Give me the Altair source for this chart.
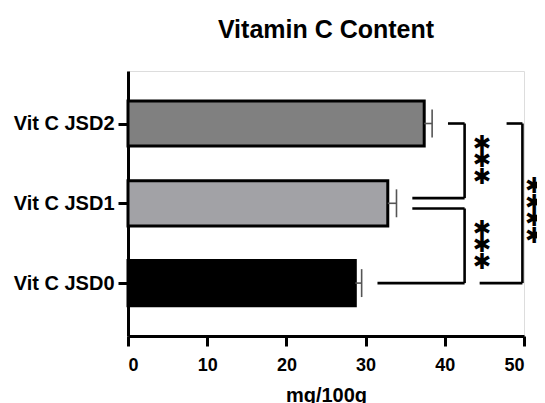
import json
import altair as alt
import pandas as pd

# ---- data -------------------------------------------------------------
categories = ["Vit C JSD0", "Vit C JSD1", "Vit C JSD2"]
means = [28.7, 32.8, 37.4]
sds = [0.8, 1.1, 1.0]
fills = ["#000000", "#a2a2a6", "#808080"]

# significance brackets: one entry per comparison
br_label = ["***", "***", "****"]
br_y_top = [2.0, 0.935, 2.0]
br_y_bot = [1.065, 0.0, 0.0]
br_x_vert = [42.5, 42.5, 49.8]
br_x_top = [40.4, 35.9, 47.8]
br_x_bot = [35.9, 31.5, 44.4]
br_star_x = [44.7, 44.7, 51.3]

x_ticks = [0, 10, 20, 30, 40, 50]

# ---- tables -----------------------------------------------------------
BAR_HALF = 0.283
CAP_HALF = 0.175

bars = pd.DataFrame({
    "cat": categories,
    "pos": list(range(len(categories))),
    "mean": means,
    "hi": [m + s for m, s in zip(means, sds)],
    "fill": fills,
})
bars["y0"] = bars["pos"] - BAR_HALF
bars["y1"] = bars["pos"] + BAR_HALF
bars["c0"] = bars["pos"] - CAP_HALF
bars["c1"] = bars["pos"] + CAP_HALF

segs = []
for i in range(len(br_label)):
    segs.append(dict(x=br_x_top[i], x2=br_x_vert[i], y=br_y_top[i], y2=br_y_top[i]))
    segs.append(dict(x=br_x_vert[i], x2=br_x_vert[i], y=br_y_top[i], y2=br_y_bot[i]))
    segs.append(dict(x=br_x_bot[i], x2=br_x_vert[i], y=br_y_bot[i], y2=br_y_bot[i]))
segs = pd.DataFrame(segs)

STAR = "\u2731"
stars = pd.DataFrame({
    "x": br_star_x,
    "y": [(a + b) / 2 for a, b in zip(br_y_top, br_y_bot)],
    "t": ["\n".join(STAR for _ in s) for s in br_label],
})

# ---- scales / axes ------------------------------------------------------
FONT = "Liberation Sans"
xs = alt.Scale(domain=[0, 50], nice=False, zero=False)
ys = alt.Scale(domain=[-0.663, 2.658], nice=False, zero=False)

xaxis = alt.Axis(
    values=x_ticks, title="mg/100g", grid=False,
    domainColor="black", domainWidth=3, tickColor="black", tickWidth=3,
    tickSize=10, labelFont=FONT, labelFontSize=18, labelFontWeight="bold",
    labelColor="black", labelPadding=10, titleFont=FONT, titleFontSize=20,
    titleFontWeight="bold", titleColor="black", titlePadding=11,
)
yaxis = alt.Axis(
    values=[0, 1, 2], title=None, grid=False,
    labelExpr=json.dumps(categories) + "[datum.value]",
    domainColor="black", domainWidth=3, tickColor="black", tickWidth=3,
    tickSize=10, labelFont=FONT, labelFontSize=20, labelFontWeight="bold",
    labelColor="black", labelPadding=4,
)


def X(f):
    return alt.X(f, type="quantitative", scale=xs, axis=xaxis)


def Y(f):
    return alt.Y(f, type="quantitative", scale=ys, axis=yaxis)


base = alt.Chart(bars)

bar_layer = base.mark_bar(stroke="black", strokeWidth=3).encode(
    x=X("zero_x"), x2="mean:Q", y=Y("y0"), y2="y1:Q",
    fill=alt.Fill("fill:N", scale=None),
).transform_calculate(zero_x="0")

err_h = base.mark_rule(color="#555555", strokeWidth=1.6).encode(
    x=X("mean"), x2="hi:Q", y=Y("pos"),
)
err_c = base.mark_rule(color="#555555", strokeWidth=1.6).encode(
    x=X("hi"), y=Y("c0"), y2="c1:Q",
)

br_layer = alt.Chart(segs).mark_rule(color="black", strokeWidth=2.6).encode(
    x=X("x"), x2="x2:Q", y=Y("y"), y2="y2:Q",
)

star_layer = alt.Chart(stars).mark_text(
    font="DejaVu Sans", fontWeight="bold", fontSize=22, lineBreak="\n",
    lineHeight=16.5, baseline="middle", align="center", color="black", dy=-17,
).encode(x=X("x"), y=Y("y"), text="t:N")

chart = alt.layer(bar_layer, err_h, err_c, br_layer, star_layer).properties(
    width=396, height=265,
    title=alt.TitleParams(
        "Vitamin C Content", font=FONT, fontSize=25, fontWeight="bold",
        color="black", anchor="middle", baseline="alphabetic", offset=8,
    ),
    autosize=alt.AutoSizeParams(type="none"),
    padding={"left": 120, "top": 63, "right": 13, "bottom": 67},
).configure_view(stroke=None).configure(background="white")

chart.save("out.html", embed_options={"renderer": "svg", "actions": False})
